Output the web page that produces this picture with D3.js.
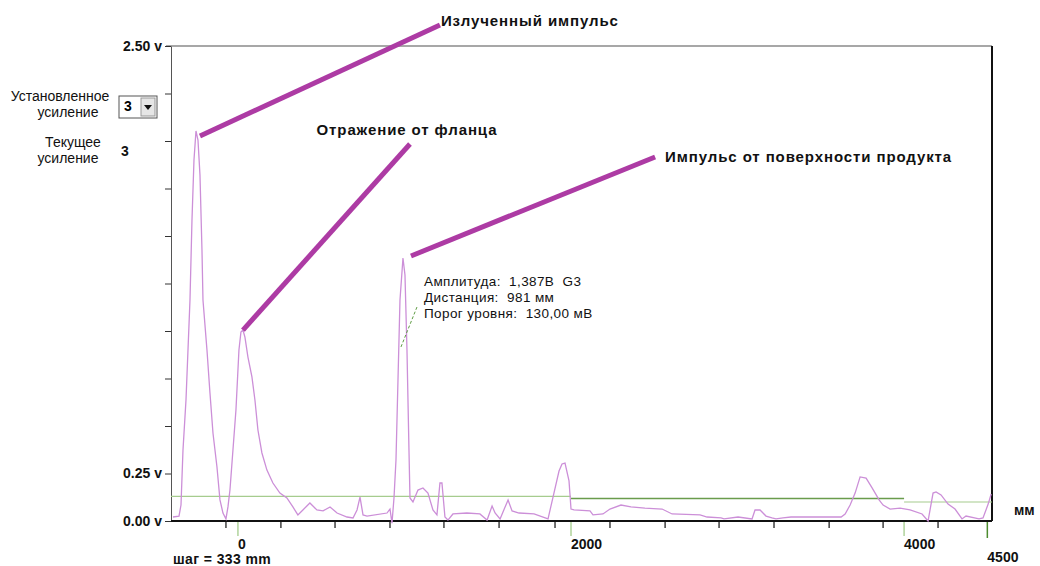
<!DOCTYPE html>
<html>
<head>
<meta charset="utf-8">
<script src="https://cdn.jsdelivr.net/npm/d3@7"></script>
<style>
    body { margin: 0; background: #fff; }
    text { font-family: "Liberation Sans", Arial, sans-serif; }
</style>
</head>
<body>
<div id="viz"></div>
<script>
// echo trace (distance in mm, amplitude in volts)
const distanceMm = [-390,-354,-342,-330,-312,-300,-288,-276,-264,-252,
    -240,-228,-216,-210,-186,-168,-150,-126,-108,-90,
    -72,-60,-48,-30,-12,6,18,30,42,60,
    84,102,120,144,174,210,252,294,330,360,
    390,432,474,511,553,595,655,691,715,733,
    751,775,895,913,925,937,949,961,973,991,
    1003,1015,1027,1033,1051,1081,1111,1141,1171,1195,
    1213,1225,1243,1261,1291,1375,1453,1496,1526,1544,
    1574,1622,1646,1688,1778,1862,1892,1928,1946,1964,
    1988,2000,2018,2114,2132,2192,2234,2300,2360,2444,
    2547,2607,2775,2817,2901,2919,3003,3087,3105,3135,
    3171,3207,3231,3273,3321,3622,3646,3676,3706,3736,
    3772,3808,3850,3874,3916,3976,4036,4108,4144,4174,
    4192,4222,4264,4306,4348,4372,4450,4474,4505,4523];
const amplitudeV = [0.021,0.026,0.084,0.374,0.637,0.900,1.163,1.584,1.900,2.053,
    2.005,1.821,1.426,1.163,0.900,0.674,0.463,0.284,0.111,0.042,
    0.011,0.074,0.163,0.374,0.584,0.900,0.995,1.005,0.968,0.863,
    0.758,0.637,0.479,0.358,0.268,0.200,0.147,0.121,0.074,0.032,
    0.058,0.095,0.058,0.053,0.074,0.042,0.021,0.016,0.058,0.126,
    0.032,0.026,0.042,0.063,-0.011,0.121,0.321,0.742,1.163,1.384,
    1.295,0.900,0.374,0.121,0.100,0.163,0.174,0.147,0.058,0.032,
    0.200,0.200,0.021,0.005,0.037,0.042,0.037,0.005,0.079,0.042,
    0.011,0.111,0.053,0.042,0.037,0.011,0.126,0.263,0.300,0.305,
    0.211,0.063,0.058,0.053,0.032,0.037,0.063,0.084,0.074,0.068,
    0.063,0.037,0.032,0.021,0.016,0.011,0.021,0.011,0.058,0.058,
    0.026,0.016,0.011,0.016,0.021,0.021,0.037,0.084,0.147,0.232,
    0.226,0.174,0.111,0.084,0.063,0.068,0.058,0.037,0.000,0.147,
    0.153,0.137,0.089,0.063,0.011,0.026,0.011,0.016,0.089,0.142];

// threshold curve, in steps
const thresholdFromMm = [-402, 2000, 4000];
const thresholdToMm = [2000, 4000, 4528];
const thresholdV = [0.13, 0.118, 0.10];

// axes
const yTicks = [0, 0.25, 0.5, 0.75, 1, 1.25, 1.5, 1.75, 2, 2.25, 2.5];
const yLabelled = [0, 0.25, 2.5];
const xMinorTicks = [-72, 258, 583, 913, 1237, 1568, 1904, 2234, 2565, 2889, 3219, 3550, 3874, 4204];
const xLabelTicks = [0, 2000, 4000];
const xEndTick = 4500;
const stepText = "шаг = 333 mm";
const unitText = "мм";

// callouts
const calloutTitles = ["Излученный импульс", "Отражение от фланца", "Импульс от поверхности продукта"];
const calloutFrom = [[-228, 2.026], [30, 1.005], [1039, 1.395]];
const calloutTo = [[1213, 2.611], [1033, 1.984], [2505, 1.916]];

// readout at the product echo
const readoutLines = ["Амплитуда:  1,387В  G3", "Дистанция:  981 мм", "Порог уровня:  130,00 мВ"];
const readoutPointer = [[979, 0.916], [1075, 1.126]];

// gain panel
const gainSetLabel = ["Установленное", "усиление"];
const gainNowLabel = ["Текущее", "усиление"];
const gainSet = "3";
const gainNow = "3";

const width = 1040;
const height = 566;

const svg = d3.select("#viz").append("svg")
    .attr("width", width)
    .attr("height", height);

const x = d3.scaleLinear().domain([-402, 4528]).range([171, 992]);
const y = d3.scaleLinear().domain([0, 2.5]).range([521, 46]);

// frame: grey top, black right
svg.append("line")
    .attr("x1", 166).attr("x2", x(4528))
    .attr("y1", y(2.5)).attr("y2", y(2.5))
    .attr("stroke", "#8a8a8a").attr("stroke-width", 1.5);
svg.append("line")
    .attr("x1", x(4528)).attr("x2", x(4528))
    .attr("y1", y(2.5)).attr("y2", y(0))
    .attr("stroke", "#111").attr("stroke-width", 2);

// y axis
const yAxis = d3.axisLeft(y)
    .tickValues(yTicks)
    .tickSize(6)
    .tickSizeOuter(0)
    .tickPadding(3)
    .tickFormat(d => yLabelled.includes(d) ? d3.format(".2f")(d) + " v" : "");

const yg = svg.append("g")
    .attr("transform", `translate(${x(-402)},0)`)
    .call(yAxis);
yg.select(".domain").attr("stroke", "#555");
yg.selectAll(".tick line").attr("stroke", "#333");
yg.selectAll("text")
    .attr("font-size", 14)
    .attr("font-weight", "bold")
    .attr("fill", "#111");

// x axis minor ticks
svg.selectAll(".xminor")
    .data(xMinorTicks)
    .enter()
    .append("line")
    .attr("x1", d => x(d)).attr("x2", d => x(d))
    .attr("y1", y(0)).attr("y2", y(0) + 7)
    .attr("stroke", "#222").attr("stroke-width", 1.3);

// labelled ticks (green)
svg.selectAll(".xlab")
    .data(xLabelTicks)
    .enter()
    .append("line")
    .attr("x1", d => x(d)).attr("x2", d => x(d))
    .attr("y1", y(0)).attr("y2", y(0) + 15)
    .attr("stroke", "#9cc882").attr("stroke-width", 1.2);

svg.selectAll(".xlabtext")
    .data(xLabelTicks)
    .enter()
    .append("text")
    .attr("x", d => x(d))
    .attr("y", y(0) + 28)
    .attr("font-size", 14)
    .attr("font-weight", "bold")
    .attr("fill", "#111")
    .text(d => d);

svg.append("line")
    .attr("x1", x(xEndTick)).attr("x2", x(xEndTick))
    .attr("y1", y(0)).attr("y2", y(0) + 17)
    .attr("stroke", "#4d8c2e").attr("stroke-width", 1.5);
svg.append("text")
    .attr("x", x(xEndTick))
    .attr("y", y(0) + 41)
    .attr("font-size", 14)
    .attr("font-weight", "bold")
    .attr("fill", "#111")
    .text(xEndTick);

svg.append("text")
    .attr("x", 173)
    .attr("y", y(0) + 43)
    .attr("font-size", 14)
    .attr("font-weight", "bold")
    .attr("letter-spacing", 0.4)
    .attr("fill", "#111")
    .text(stepText);

svg.append("text")
    .attr("x", 1014)
    .attr("y", y(0) - 6)
    .attr("font-size", 14)
    .attr("font-weight", "bold")
    .attr("fill", "#111")
    .text(unitText);

// threshold
thresholdV.forEach((v, i) => {
    svg.append("line")
        .attr("x1", x(thresholdFromMm[i])).attr("x2", x(thresholdToMm[i]))
        .attr("y1", y(v)).attr("y2", y(v))
        .attr("stroke", i === 1 ? "#6a9c4c" : "#a6cc8e")
        .attr("stroke-width", i === 1 ? 1.5 : 1.2);
});

// bottom axis line
svg.append("line")
    .attr("x1", x(-402)).attr("x2", x(4528))
    .attr("y1", y(0)).attr("y2", y(0))
    .attr("stroke", "#111").attr("stroke-width", 2);

// trace
const trace = distanceMm.map((d, i) => [d, amplitudeV[i]]);
const line = d3.line().x(d => x(d[0])).y(d => y(d[1]));

svg.append("path")
    .attr("d", line(trace))
    .attr("fill", "none")
    .attr("stroke", "#cc8fd8")
    .attr("stroke-width", 1.3);

// readout pointer and text
svg.append("line")
    .attr("x1", x(readoutPointer[0][0])).attr("y1", y(readoutPointer[0][1]))
    .attr("x2", x(readoutPointer[1][0])).attr("y2", y(readoutPointer[1][1]))
    .attr("stroke", "#5e9c44")
    .attr("stroke-dasharray", "3,2");

svg.selectAll(".readout")
    .data(readoutLines)
    .enter()
    .append("text")
    .attr("x", 424)
    .attr("y", (d, i) => 286 + i * 16)
    .attr("font-size", 13.5)
    .attr("letter-spacing", 0.4)
    .attr("fill", "#111")
    .style("white-space", "pre")
    .text(d => d);

// callouts
calloutTitles.forEach((t, i) => {
    const [x1, y1] = [x(calloutFrom[i][0]), y(calloutFrom[i][1])];
    const [x2, y2] = [x(calloutTo[i][0]), y(calloutTo[i][1])];
    svg.append("line")
        .attr("x1", x1).attr("y1", y1)
        .attr("x2", x2).attr("y2", y2)
        .attr("stroke", "#ad3ba4")
        .attr("stroke-width", 5);
    const label = svg.append("text")
        .attr("font-size", 15)
        .attr("font-weight", "bold")
        .attr("letter-spacing", 0.9)
        .attr("fill", "#111")
        .attr("dominant-baseline", "middle")
        .text(t);
    if (i === 1) {
        label.attr("x", x2 - 3).attr("y", y2 - 13).attr("text-anchor", "middle");
    } else {
        label.attr("x", x2 + (i === 0 ? 1 : 10)).attr("y", y2 + (i === 0 ? -3 : 1));
    }
});

// gain panel
svg.selectAll(".gset")
    .data(gainSetLabel)
    .enter()
    .append("text")
    .attr("x", (d, i) => i === 0 ? 60 : 68)
    .attr("y", (d, i) => 97 + i * 16)
    .attr("text-anchor", "middle")
    .attr("dominant-baseline", "middle")
    .attr("font-size", 14)
    .attr("fill", "#111")
    .text(d => d);

svg.selectAll(".gnow")
    .data(gainNowLabel)
    .enter()
    .append("text")
    .attr("x", (d, i) => i === 0 ? 73 : 68)
    .attr("y", (d, i) => 143 + i * 16)
    .attr("text-anchor", "middle")
    .attr("dominant-baseline", "middle")
    .attr("font-size", 14)
    .attr("fill", "#111")
    .text(d => d);

const combo = svg.append("g").attr("transform", "translate(119,96)");
combo.append("rect")
    .attr("width", 38).attr("height", 22)
    .attr("fill", "#fff")
    .attr("stroke", "#555");
combo.append("rect")
    .attr("x", 22).attr("y", 2)
    .attr("width", 14).attr("height", 18)
    .attr("fill", "#e6e6e6")
    .attr("stroke", "#999");
combo.append("path")
    .attr("d", "M25,9 L33,9 L29,14 Z")
    .attr("fill", "#111");
combo.append("text")
    .attr("x", 5).attr("y", 11)
    .attr("dominant-baseline", "middle")
    .attr("font-size", 14)
    .attr("font-weight", "bold")
    .text(gainSet);

svg.append("text")
    .attr("x", 121).attr("y", 152)
    .attr("dominant-baseline", "middle")
    .attr("font-size", 14)
    .attr("font-weight", "bold")
    .attr("fill", "#111")
    .text(gainNow);
</script>
</body>
</html>
